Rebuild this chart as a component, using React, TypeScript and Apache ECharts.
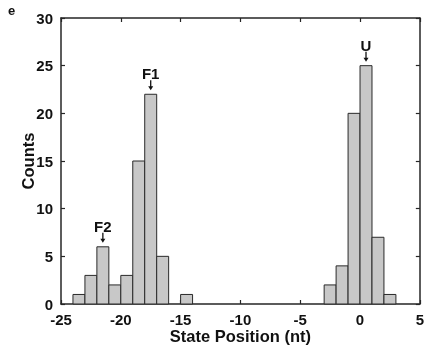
import React, { useEffect, useRef } from "react";
import * as echarts from "echarts";

const binStarts = [-24, -23, -22, -21, -20, -19, -18, -17, -15, -3, -2, -1, 0, 1, 2];
const counts = [1, 3, 6, 2, 3, 15, 22, 5, 1, 2, 4, 20, 25, 7, 1];
const annLabels = ["F2", "F1", "U"];
const annBins = [-22, -18, 0];
const xTicks = { min: -25, max: 5, interval: 5 };
const yTicks = { min: 0, max: 30, interval: 5 };

const FONT = "'Liberation Sans', Arial, Helvetica, sans-serif";
const AX = "#262626";

export default function App() {
  const ref = useRef<HTMLDivElement>(null);
  useEffect(() => {
    const chart = echarts.init(ref.current!, null, { renderer: "svg" });
    const barData = binStarts.map((b, i) => [b, counts[i]]);
    const annData = annBins.map((b, i) => [b, counts[binStarts.indexOf(b)], i]);
    const axisLine = { show: true, onZero: false, lineStyle: { color: AX, width: 1.5 } };
    const axisTick = { show: true, inside: true, length: 4, lineStyle: { color: AX, width: 1.2 } };
    const labelStyle = { color: "#111", fontFamily: FONT, fontWeight: "bold" as const, fontSize: 15 };
    const nameStyle = { ...labelStyle, fontSize: 16.5 };
    chart.setOption({
      animation: false,
      grid: { left: 61, right: 4, top: 18, bottom: 45, containLabel: false },
      graphic: [
        { type: "text", left: 8, top: 4, style: { text: "e", font: `bold 13px ${FONT}`, fill: "#111" } },
      ],
      xAxis: [
        {
          type: "value", position: "bottom", ...xTicks,
          axisLine, axisTick, splitLine: { show: false },
          axisLabel: { ...labelStyle, margin: 8 },
          name: "State Position (nt)", nameLocation: "middle", nameGap: 23,
          nameMoveOverlap: false,
          nameTextStyle: nameStyle,
        },
        {
          type: "value", position: "top", ...xTicks,
          axisLine, axisTick, splitLine: { show: false }, axisLabel: { show: false },
        },
      ],
      yAxis: [
        {
          type: "value", position: "left", ...yTicks,
          axisLine, axisTick, splitLine: { show: false },
          axisLabel: { ...labelStyle, margin: 8 },
          name: "Counts", nameLocation: "middle", nameGap: 25,
          nameMoveOverlap: false,
          nameTextStyle: nameStyle,
        },
        {
          type: "value", position: "right", ...yTicks,
          axisLine, axisTick, splitLine: { show: false }, axisLabel: { show: false },
        },
      ],
      series: [
        {
          type: "custom",
          data: barData,
          renderItem: (params: any, api: any) => {
            const x0 = api.value(0);
            const c = api.value(1);
            const p0 = api.coord([x0, 0]);
            const p1 = api.coord([x0 + 1, c]);
            return {
              type: "rect",
              shape: { x: p0[0], y: p1[1], width: p1[0] - p0[0], height: p0[1] - p1[1] },
              style: { fill: "#c8c8c8", stroke: "#2a2a2a", lineWidth: 1 },
            };
          },
        },
        {
          type: "custom",
          data: annData,
          renderItem: (params: any, api: any) => {
            const x0 = api.value(0);
            const c = api.value(1);
            const idx = api.value(2);
            const p = api.coord([x0 + 0.5, c]);
            const tipY = p[1] - 4;
            const topY = p[1] - 14;
            return {
              type: "group",
              children: [
                {
                  type: "text",
                  style: {
                    text: annLabels[idx], x: p[0], y: topY + 1,
                    align: "center", verticalAlign: "bottom",
                    font: `bold 15px ${FONT}`, fill: "#111",
                  },
                },
                {
                  type: "line",
                  shape: { x1: p[0], y1: topY, x2: p[0], y2: tipY - 3 },
                  style: { stroke: "#111", lineWidth: 1.3 },
                },
                {
                  type: "polygon",
                  shape: { points: [[p[0] - 2.5, tipY - 4], [p[0] + 2.5, tipY - 4], [p[0], tipY]] },
                  style: { fill: "#111" },
                },
              ],
            };
          },
        },
      ],
    });
    return () => chart.dispose();
  }, []);
  return <div ref={ref} style={{ position: "fixed", left: 0, top: 0, width: 427, height: 349 }} />;
}
